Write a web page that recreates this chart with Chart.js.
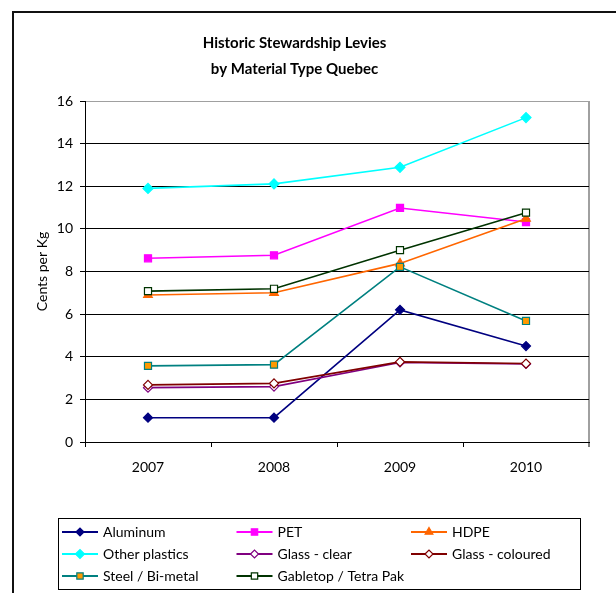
<!DOCTYPE html>
<html>
<head>
<meta charset="utf-8">
<script src="https://cdn.jsdelivr.net/npm/chart.js@4.4.1/dist/chart.umd.min.js"></script>
<style>
  html, body { margin: 0; padding: 0; background: #fff; }
</style>
</head>
<body>
<canvas id="levyChart" width="616" height="593"></canvas>
<script>
// data (cents per kg)
const years = ["2007", "2008", "2009", "2010"];
const aluminum = [1.14, 1.14, 6.2, 4.5];
const pet = [8.62, 8.76, 10.98, 10.32];
const hdpe = [6.9, 7.0, 8.38, 10.48];
const otherPlastics = [11.9, 12.11, 12.89, 15.22];
const glassClear = [2.55, 2.6, 3.73, 3.66];
const glassColoured = [2.68, 2.75, 3.76, 3.68];
const steel = [3.57, 3.63, 8.22, 5.68];
const gabletop = [7.08, 7.19, 9.0, 10.76];
const yMin = 0, yMax = 16, yStep = 2;

const font = { family: "Lato", size: 14 };

function series(label, data, line, fill, border, style, radius) {
  return {
    label: label,
    data: data,
    borderColor: line,
    borderWidth: 1.6,
    pointStyle: style,
    pointRadius: radius,
    pointBackgroundColor: fill,
    pointBorderColor: border,
    pointBorderWidth: 1.2,
    tension: 0,
    fill: false
  };
}

const datasets = [
  series("Aluminum", aluminum, "#000080", "#000080", "#000080", "rectRot", 4.5),
  series("PET", pet, "#FF00FF", "#FF00FF", "#FF00FF", "rect", 5),
  series("HDPE", hdpe, "#FF6600", "#FF6600", "#FF6600", "triangle", 5),
  series("Other plastics", otherPlastics, "#00FFFF", "#00FFFF", "#00FFFF", "rectRot", 5),
  series("Glass - clear", glassClear, "#800080", "#FFFFFF", "#800080", "rectRot", 4.5),
  series("Glass - coloured", glassColoured, "#800000", "#FFFFFF", "#800000", "rectRot", 4.5),
  series("Steel / Bi-metal", steel, "#008080", "#FF9900", "#008080", "rect", 5),
  series("Gabletop / Tetra Pak", gabletop, "#003300", "#FFFFFF", "#003300", "rect", 5)
];
// later series sit on top, like the original
datasets.forEach((d, i) => { d.order = datasets.length - i; });

// outer frame of the chart object
const frame = {
  id: "frame",
  beforeDraw(chart) {
    const ctx = chart.ctx;
    ctx.save();
    ctx.strokeStyle = "#111";
    ctx.lineWidth = 2;
    ctx.beginPath();
    ctx.moveTo(13, chart.height);
    ctx.lineTo(13, 12);
    ctx.lineTo(chart.width, 12);
    ctx.stroke();
    ctx.restore();
  }
};

// three column legend in a box under the plot
const gridLegend = {
  id: "gridLegend",
  afterDraw(chart) {
    const ctx = chart.ctx;
    const box = { x: 58, y: 518, w: 522, h: 71 };
    ctx.save();
    ctx.strokeStyle = "#000";
    ctx.lineWidth = 1;
    ctx.strokeRect(box.x + 0.5, box.y + 0.5, box.w, box.h);
    ctx.font = "14px Lato";
    ctx.textBaseline = "middle";
    chart.data.datasets.forEach((ds, i) => {
      const lx = box.x + 4 + (i % 3) * 174.5;
      const ly = box.y + 14 + Math.floor(i / 3) * 22;
      ctx.strokeStyle = ds.borderColor;
      ctx.lineWidth = 2;
      ctx.beginPath();
      ctx.moveTo(lx, ly);
      ctx.lineTo(lx + 36, ly);
      ctx.stroke();
      ctx.fillStyle = ds.pointBackgroundColor;
      ctx.strokeStyle = ds.pointBorderColor;
      ctx.lineWidth = 1.2;
      Chart.helpers.drawPoint(ctx, { pointStyle: ds.pointStyle, radius: ds.pointRadius - 0.5, borderWidth: 1.2, rotation: 0 }, lx + 18, ly);
      ctx.fillStyle = "#000";
      ctx.textAlign = "left";
      ctx.fillText(ds.label, lx + 41, ly);
    });
    ctx.restore();
  }
};

new Chart("levyChart", {
  type: "line",
  data: { labels: years, datasets: datasets },
  options: {
    responsive: false,
    animation: false,
    layout: { padding: { left: 0, right: 27, top: 0, bottom: 111 } },
    plugins: {
      legend: { display: false },
      tooltip: { enabled: false },
      title: {
        display: true,
        text: ["Historic Stewardship Levies", "by Material Type Quebec"],
        color: "#000",
        font: { family: "Lato", size: 15, weight: "bold", lineHeight: "26px" },
        padding: { top: 30, bottom: 19 }
      }
    },
    scales: {
      x: {
        offset: true,
        grid: {
          offset: true,
          color: c => c.type === "tick" ? "rgba(0,0,0,0)" : "#a0a0a0",
          lineWidth: c => c.type === "tick" ? 1 : 2,
          tickColor: "#000",
          tickWidth: 1,
          tickLength: 5
        },
        border: { color: "#000", width: 1 },
        ticks: { color: "#000", font: font, padding: 12 },
        afterFit: s => { s.height = 40; }
      },
      y: {
        min: yMin,
        max: yMax,
        ticks: { stepSize: yStep, color: "#000", font: font, padding: 7 },
        grid: {
          color: c => c.tick && c.tick.value === yMax ? "#a0a0a0" : "#000",
          tickColor: "#000",
          tickLength: 5
        },
        border: { color: "#000", width: 1 },
        title: {
          display: true,
          text: "Cents per Kg",
          color: "#000",
          font: font,
          padding: { top: 34, bottom: 0 }
        },
        afterFit: s => { s.width = 85; }
      }
    }
  },
  plugins: [frame, gridLegend]
});
</script>
</body>
</html>
